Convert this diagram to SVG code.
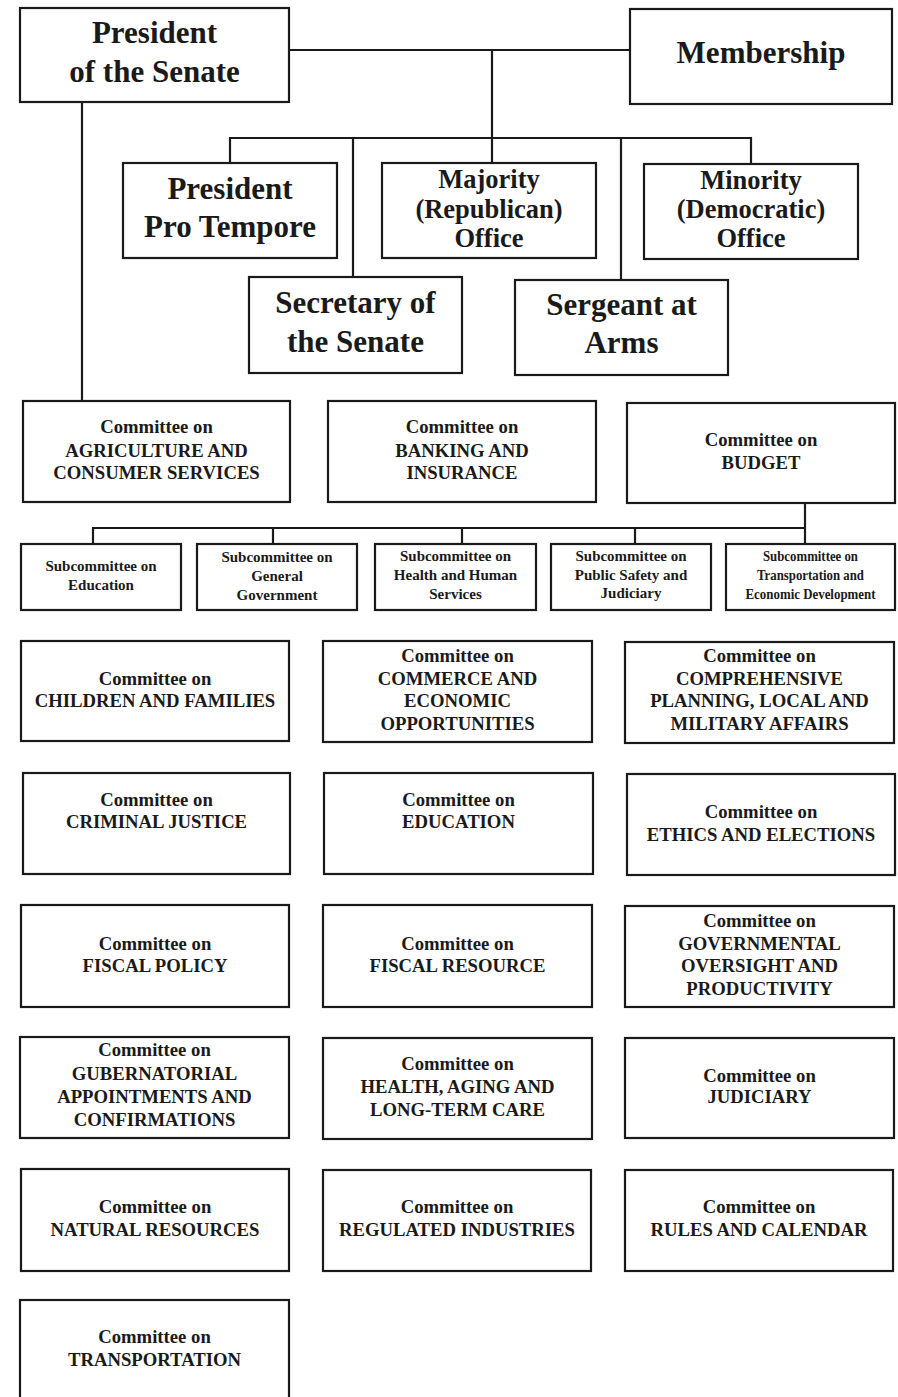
<svg xmlns="http://www.w3.org/2000/svg" width="898" height="1397" viewBox="0 0 898 1397">
<style>
rect{fill:#fff;stroke:#1a1a1a;stroke-width:2.2}
.c line,.c path{stroke:#1a1a1a;stroke-width:2.2;fill:none}
text{font-family:"Liberation Serif","Times New Roman",serif;font-weight:bold;fill:#1a1a1a;text-anchor:middle}
.big{font-size:31px}
.mid{font-size:26.5px}
.cm{font-size:18.7px}
.sb{font-size:15px}
</style>
<rect x="0" y="0" width="898" height="1397" style="fill:#fff;stroke:none"/>
<g class="c" id="connectors">
<line x1="289" y1="50" x2="630" y2="50"/>
<line x1="492" y1="50" x2="492" y2="163"/>
<path d="M230 163 V138 H751 V164"/>
<line x1="353" y1="138" x2="353" y2="277"/>
<line x1="621" y1="138" x2="621" y2="280"/>
<line x1="82" y1="102" x2="82" y2="401"/>
<line x1="805" y1="503" x2="805" y2="544"/>
<path d="M93 544 V528 H805"/>
<line x1="273" y1="528" x2="273" y2="544"/>
<line x1="462" y1="528" x2="462" y2="544"/>
<line x1="635" y1="528" x2="635" y2="544"/>
</g>
<g id="president"><rect x="20" y="8" width="269" height="94"/><text class="big" x="154.5" y="43">President</text><text class="big" x="154.5" y="82">of the Senate</text></g>
<g id="membership"><rect x="630" y="9" width="262" height="95"/><text class="big" x="761" y="63">Membership</text></g>
<g id="ppt"><rect x="123" y="163" width="214" height="95"/><text class="big" x="230" y="199">President</text><text class="big" x="230" y="237">Pro Tempore</text></g>
<g id="majority"><rect x="382" y="163" width="214" height="95"/><text class="mid" x="489" y="188">Majority</text><text class="mid" x="489" y="218">(Republican)</text><text class="mid" x="489" y="247">Office</text></g>
<g id="minority"><rect x="644" y="164" width="214" height="95"/><text class="mid" x="751" y="189">Minority</text><text class="mid" x="751" y="218">(Democratic)</text><text class="mid" x="751" y="247">Office</text></g>
<g id="secretary"><rect x="249" y="277" width="213" height="96"/><text class="big" x="355.5" y="313">Secretary of</text><text class="big" x="355.5" y="352">the Senate</text></g>
<g id="sergeant"><rect x="515" y="280" width="213" height="95"/><text class="big" x="621.5" y="315">Sergeant at</text><text class="big" x="621.5" y="353">Arms</text></g>

<g id="agriculture"><rect x="23" y="401" width="267" height="101"/><text class="cm" x="156.5" y="433">Committee on</text><text class="cm" x="156.5" y="457">AGRICULTURE AND</text><text class="cm" x="156.5" y="479">CONSUMER SERVICES</text></g>
<g id="banking"><rect x="328" y="401" width="268" height="101"/><text class="cm" x="462" y="433">Committee on</text><text class="cm" x="462" y="457">BANKING AND</text><text class="cm" x="462" y="479">INSURANCE</text></g>
<g id="budget"><rect x="627" y="403" width="268" height="100"/><text class="cm" x="761" y="446">Committee on</text><text class="cm" x="761" y="469">BUDGET</text></g>

<g id="sub-education"><rect x="21" y="544" width="160" height="66"/><text class="sb" x="101" y="571">Subcommittee on</text><text class="sb" x="101" y="590">Education</text></g>
<g id="sub-general"><rect x="197" y="544" width="160" height="66"/><text class="sb" x="277" y="562">Subcommittee on</text><text class="sb" x="277" y="581">General</text><text class="sb" x="277" y="600">Government</text></g>
<g id="sub-health"><rect x="375" y="544" width="161" height="66"/><text class="sb" x="455.5" y="561" textLength="111" lengthAdjust="spacingAndGlyphs">Subcommittee on</text><text class="sb" x="455.5" y="580">Health and Human</text><text class="sb" x="455.5" y="599">Services</text></g>
<g id="sub-public"><rect x="551" y="544" width="160" height="66"/><text class="sb" x="631" y="561" textLength="111" lengthAdjust="spacingAndGlyphs">Subcommittee on</text><text class="sb" x="631" y="580">Public Safety and</text><text class="sb" x="631" y="598">Judiciary</text></g>
<g id="sub-transport"><rect x="726" y="544" width="169" height="66"/><text class="sb" x="810.5" y="561" textLength="95" lengthAdjust="spacingAndGlyphs">Subcommittee on</text><text class="sb" x="810.5" y="580" textLength="107" lengthAdjust="spacingAndGlyphs">Transportation and</text><text class="sb" x="810.5" y="599" textLength="130" lengthAdjust="spacingAndGlyphs">Economic Development</text></g>

<g id="children"><rect x="21" y="641" width="268" height="100"/><text class="cm" x="155" y="685">Committee on</text><text class="cm" x="155" y="707">CHILDREN AND FAMILIES</text></g>
<g id="commerce"><rect x="323" y="641" width="269" height="101"/><text class="cm" x="457.5" y="662">Committee on</text><text class="cm" x="457.5" y="685">COMMERCE AND</text><text class="cm" x="457.5" y="707">ECONOMIC</text><text class="cm" x="457.5" y="730">OPPORTUNITIES</text></g>
<g id="comprehensive"><rect x="625" y="642" width="269" height="101"/><text class="cm" x="759.5" y="662">Committee on</text><text class="cm" x="759.5" y="685">COMPREHENSIVE</text><text class="cm" x="759.5" y="707">PLANNING, LOCAL AND</text><text class="cm" x="759.5" y="730">MILITARY AFFAIRS</text></g>

<g id="criminal"><rect x="23" y="773" width="267" height="101"/><text class="cm" x="156.5" y="806">Committee on</text><text class="cm" x="156.5" y="828">CRIMINAL JUSTICE</text></g>
<g id="education"><rect x="324" y="773" width="269" height="101"/><text class="cm" x="458.5" y="806">Committee on</text><text class="cm" x="458.5" y="828">EDUCATION</text></g>
<g id="ethics"><rect x="627" y="774" width="268" height="101"/><text class="cm" x="761" y="818">Committee on</text><text class="cm" x="761" y="841">ETHICS AND ELECTIONS</text></g>

<g id="fiscal-policy"><rect x="21" y="905" width="268" height="102"/><text class="cm" x="155" y="950">Committee on</text><text class="cm" x="155" y="972">FISCAL POLICY</text></g>
<g id="fiscal-resource"><rect x="323" y="905" width="269" height="102"/><text class="cm" x="457.5" y="950">Committee on</text><text class="cm" x="457.5" y="972">FISCAL RESOURCE</text></g>
<g id="governmental"><rect x="625" y="906" width="269" height="101"/><text class="cm" x="759.5" y="927">Committee on</text><text class="cm" x="759.5" y="950">GOVERNMENTAL</text><text class="cm" x="759.5" y="972">OVERSIGHT AND</text><text class="cm" x="759.5" y="995">PRODUCTIVITY</text></g>

<g id="gubernatorial"><rect x="20" y="1037" width="269" height="101"/><text class="cm" x="154.5" y="1056">Committee on</text><text class="cm" x="154.5" y="1080">GUBERNATORIAL</text><text class="cm" x="154.5" y="1103">APPOINTMENTS AND</text><text class="cm" x="154.5" y="1126">CONFIRMATIONS</text></g>
<g id="health"><rect x="323" y="1038" width="269" height="101"/><text class="cm" x="457.5" y="1070">Committee on</text><text class="cm" x="457.5" y="1093">HEALTH, AGING AND</text><text class="cm" x="457.5" y="1116">LONG-TERM CARE</text></g>
<g id="judiciary"><rect x="625" y="1038" width="269" height="100"/><text class="cm" x="759.5" y="1082">Committee on</text><text class="cm" x="759.5" y="1103">JUDICIARY</text></g>

<g id="natural"><rect x="21" y="1169" width="268" height="102"/><text class="cm" x="155" y="1213">Committee on</text><text class="cm" x="155" y="1236">NATURAL RESOURCES</text></g>
<g id="regulated"><rect x="323" y="1170" width="268" height="101"/><text class="cm" x="457" y="1213">Committee on</text><text class="cm" x="457" y="1236">REGULATED INDUSTRIES</text></g>
<g id="rules"><rect x="625" y="1170" width="268" height="101"/><text class="cm" x="759" y="1213">Committee on</text><text class="cm" x="759" y="1236">RULES AND CALENDAR</text></g>

<g id="transportation"><rect x="20" y="1300" width="269" height="102"/><text class="cm" x="154.5" y="1343">Committee on</text><text class="cm" x="154.5" y="1366">TRANSPORTATION</text></g>
</svg>
